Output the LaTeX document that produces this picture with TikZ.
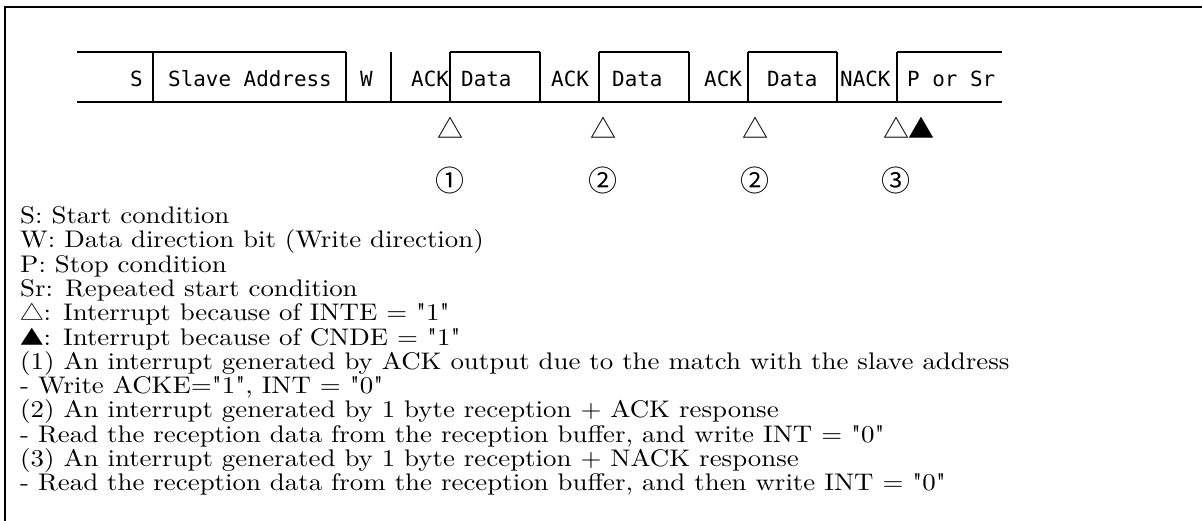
\documentclass[tikz,border=0pt]{standalone}
\usepackage{graphicx}
\usepackage{fontspec}
\setmainfont{lmroman10-regular.otf}[Ligatures=TeXOff]
\newfontfamily\rowfont{DejaVu Sans Mono}
\newfontfamily\cjkfont{Noto Sans CJK JP}
\newcommand{\widetxt}[1]{\scalebox{1.12}[1]{#1}}
\begin{document}
\begin{tikzpicture}[x=1pt,y=-1pt,
  frameline/.style={line width=1.6pt},
  rowline/.style={line width=1.3pt},
  rowtext/.style={anchor=base west,inner sep=0pt,font=\rowfont\fontsize{20.9}{24}\selectfont},
  trimark/.style={anchor=center,inner sep=0pt,font=\cjkfont\fontsize{26}{26}\selectfont},
  circmark/.style={anchor=center,inner sep=0pt,font=\cjkfont\fontsize{29}{29}\selectfont},
  legend/.style={anchor=base west,inner sep=0pt,font=\fontsize{24}{24}\selectfont}]
\useasboundingbox (0,0) rectangle (1202,521);
% frame
\draw[frameline] (5,521) -- (5,7) -- (1202,7);
% protocol row: bottom line
\draw[rowline] (77,102) -- (1002,102);
% top segments
\draw[rowline] (77,52) -- (346,52);
\draw[rowline] (450,52) -- (540,52);
\draw[rowline] (599,52) -- (689,52);
\draw[rowline] (748,52) -- (837,52);
\draw[rowline] (897,52) -- (1002,52);
% separators
\foreach \x in {153,346,391,450,540,599,689,748,837,897}
  \draw[rowline] (\x,52) -- (\x,102);
% row texts
\node[rowtext] (tS) at (130,87) {S};
\node[rowtext] (tSA) at (168,87) {Slave Address};
\node[rowtext] (tW) at (360,87) {W};
\node[rowtext] (tA1) at (411,87) {ACK};
\node[rowtext] (tD1) at (461,87) {Data};
\node[rowtext] (tA2) at (551,87) {ACK};
\node[rowtext] (tD2) at (612,87) {Data};
\node[rowtext] (tA3) at (704,87) {ACK};
\node[rowtext] (tD3) at (767,87) {Data};
\node[rowtext] (tN) at (840,87) {NACK};
\node[rowtext] (tP) at (907,87) {P or Sr};
% interrupt marks
\node[trimark] (m1) at (450,128) {△};
\node[trimark] (m2) at (603,128) {△};
\node[trimark] (m3) at (755,128) {△};
\node[trimark] (m4) at (896,128) {△};
\node[trimark] (m5) at (921,128) {▲};
\node[circmark] (c1) at (450,180) {①};
\node[circmark] (c2) at (603,180) {②};
\node[circmark] (c3) at (755,180) {②};
\node[circmark] (c4) at (896,180) {③};
% legend
\node[legend] (l1) at (20,223.5) {\widetxt{S: Start condition}};
\node[legend] (l2) at (20,247.8) {\widetxt{W: Data direction bit (Write direction)}};
\node[legend] (l3) at (20,272.1) {\widetxt{P: Stop condition}};
\node[legend] (l4) at (20,296.4) {\widetxt{Sr: Repeated start condition}};
\node[legend] (l5) at (20,320.7) {\widetxt{{\cjkfont\fontsize{21}{24}\selectfont △}: Interrupt because of INTE = "1"}};
\node[legend] (l6) at (20,345.0) {\widetxt{{\cjkfont\fontsize{21}{24}\selectfont ▲}: Interrupt because of CNDE = "1"}};
\node[legend] (l7) at (20,369.3) {\widetxt{(1) An interrupt generated by ACK output due to the match with the slave address}};
\node[legend] (l8) at (20,393.6) {\widetxt{- Write ACKE="1", INT = "0"}};
\node[legend] (l9) at (20,417.9) {\widetxt{(2) An interrupt generated by 1 byte reception + ACK response}};
\node[legend] (l10) at (20,442.2) {\widetxt{- Read the reception data from the reception buffer, and write INT = "0"}};
\node[legend] (l11) at (20,466.5) {\widetxt{(3) An interrupt generated by 1 byte reception + NACK response}};
\node[legend] (l12) at (20,490.8) {\widetxt{- Read the reception data from the reception buffer, and then write INT = "0"}};
\end{tikzpicture}
\end{document}
